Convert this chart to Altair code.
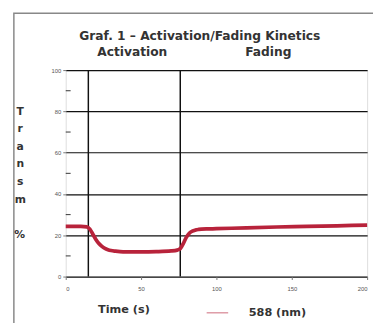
import altair as alt
import pandas as pd

time_s = [0, 5, 10, 14, 16, 18, 20, 22, 24, 26, 28, 30, 33, 36, 40, 50, 60, 70, 74, 76, 78, 80, 82, 84, 86, 88, 90, 95, 100, 120, 140, 160, 180, 200]
transm = [24.3, 24.3, 24.3, 24.1, 23.0, 20.5, 18.0, 16.0, 14.6, 13.6, 13.0, 12.6, 12.3, 12.1, 12.0, 12.0, 12.1, 12.4, 12.8, 13.5, 16.0, 19.0, 21.0, 22.0, 22.5, 22.8, 23.0, 23.1, 23.2, 23.6, 24.0, 24.3, 24.6, 24.9]
series_name = "588 (nm)"
phase_bounds = [15, 76]
grid_values = [20, 40, 60, 80]
minor_ticks = [10, 30, 50, 70, 90]
phase_labels = ["Activation", "Fading"]
title_text = "Graf. 1 \u2013 Activation/Fading Kinetics"
y_title = ["T", "r", "a", "n", "s", "m"]
y_unit = "%"

W, H = 308, 211
FONT = "DejaVu Sans"
TXT = "#333"

df = pd.DataFrame({"t": time_s, "v": transm, "s": [series_name] * len(time_s)})

xs = alt.Scale(domain=[0, 200], nice=False)
ys = alt.Scale(domain=[0, 100], nice=False)

line = alt.Chart(df).mark_line(strokeWidth=3.8, interpolate="monotone").encode(
    x=alt.X("t:Q", scale=xs, axis=alt.Axis(
        values=[0, 50, 100, 150, 200], title="Time (s)", grid=False,
        labelFontSize=6, labelColor="#555", tickSize=3, tickColor="#777",
        domain=False, labelPadding=6,
        titleFont=FONT, titleFontSize=11.5, titleFontWeight="bold", titleColor=TXT,
        titleX=59, titleY=34, titleAnchor="start", titleAlign="center", titleBaseline="middle")),
    y=alt.Y("v:Q", scale=ys, axis=alt.Axis(
        values=[0, 20, 40, 60, 80, 100], grid=True, gridColor="#111", gridWidth=1.2,
        labelFontSize=6, labelColor="#555", tickSize=3, tickColor="#777", domain=False,
        title=y_title, titleAngle=0,
        titleFont=FONT, titleFontSize=11, titleFontWeight="bold", titleColor=TXT,
        titleLineHeight=18, titleX=-47, titleY=42, titleAlign="center", titleBaseline="middle")),
    color=alt.Color("s:N", scale=alt.Scale(range=["#b8233b"]), legend=alt.Legend(
        title=None, orient="none", legendX=143, legendY=236, symbolType="stroke",
        symbolSize=484, symbolStrokeWidth=1.5, symbolOpacity=0.45,
        labelFont=FONT, labelFontSize=11.5, labelFontWeight="bold", labelColor=TXT,
        labelOffset=20)),
)

vlines = alt.Chart(pd.DataFrame({"t": phase_bounds})).mark_rule(color="#111", strokeWidth=1.5).encode(
    x=alt.X("t:Q", scale=xs))

minor = alt.Chart(pd.DataFrame({"v": minor_ticks})).mark_rule(color="#333", strokeWidth=1).encode(
    y=alt.Y("v:Q", scale=ys), x=alt.value(0), x2=alt.value(5))

phases = alt.Chart(pd.DataFrame({"lab": phase_labels, "px": [68, 207]})).mark_text(
    font=FONT, fontSize=12.5, fontWeight="bold", color=TXT, baseline="middle").encode(
    text="lab:N", x=alt.X("px:Q", scale=None), y=alt.value(-18))

title = alt.Chart(pd.DataFrame({"lab": [title_text]})).mark_text(
    font=FONT, fontSize=12.5, fontWeight="bold", color=TXT, baseline="middle").encode(
    text="lab:N", x=alt.value(137), y=alt.value(-35))

unit = alt.Chart(pd.DataFrame({"lab": [y_unit]})).mark_text(
    font=FONT, fontSize=11, fontWeight="bold", color=TXT, baseline="middle", clip=False).encode(
    text="lab:N", x=alt.value(-47), y=alt.value(169))

frame = alt.Chart(pd.DataFrame({"a": [0]})).mark_rect(
    fill=None, stroke="#888", strokeWidth=1.5, clip=False).encode(
    x=alt.value(-53), x2=alt.value(360), y=alt.value(-58), y2=alt.value(262))

chart = alt.layer(frame, minor, vlines, line, phases, title, unit).properties(
    width=W, height=H,
    autosize=alt.AutoSizeParams(type="none"),
    padding={"left": 59, "top": 60, "right": 6, "bottom": 44},
).configure_view(stroke="#111", strokeWidth=1.5).configure(background="white")

chart.save("out.html", embed_options={"renderer": "svg", "actions": False})
